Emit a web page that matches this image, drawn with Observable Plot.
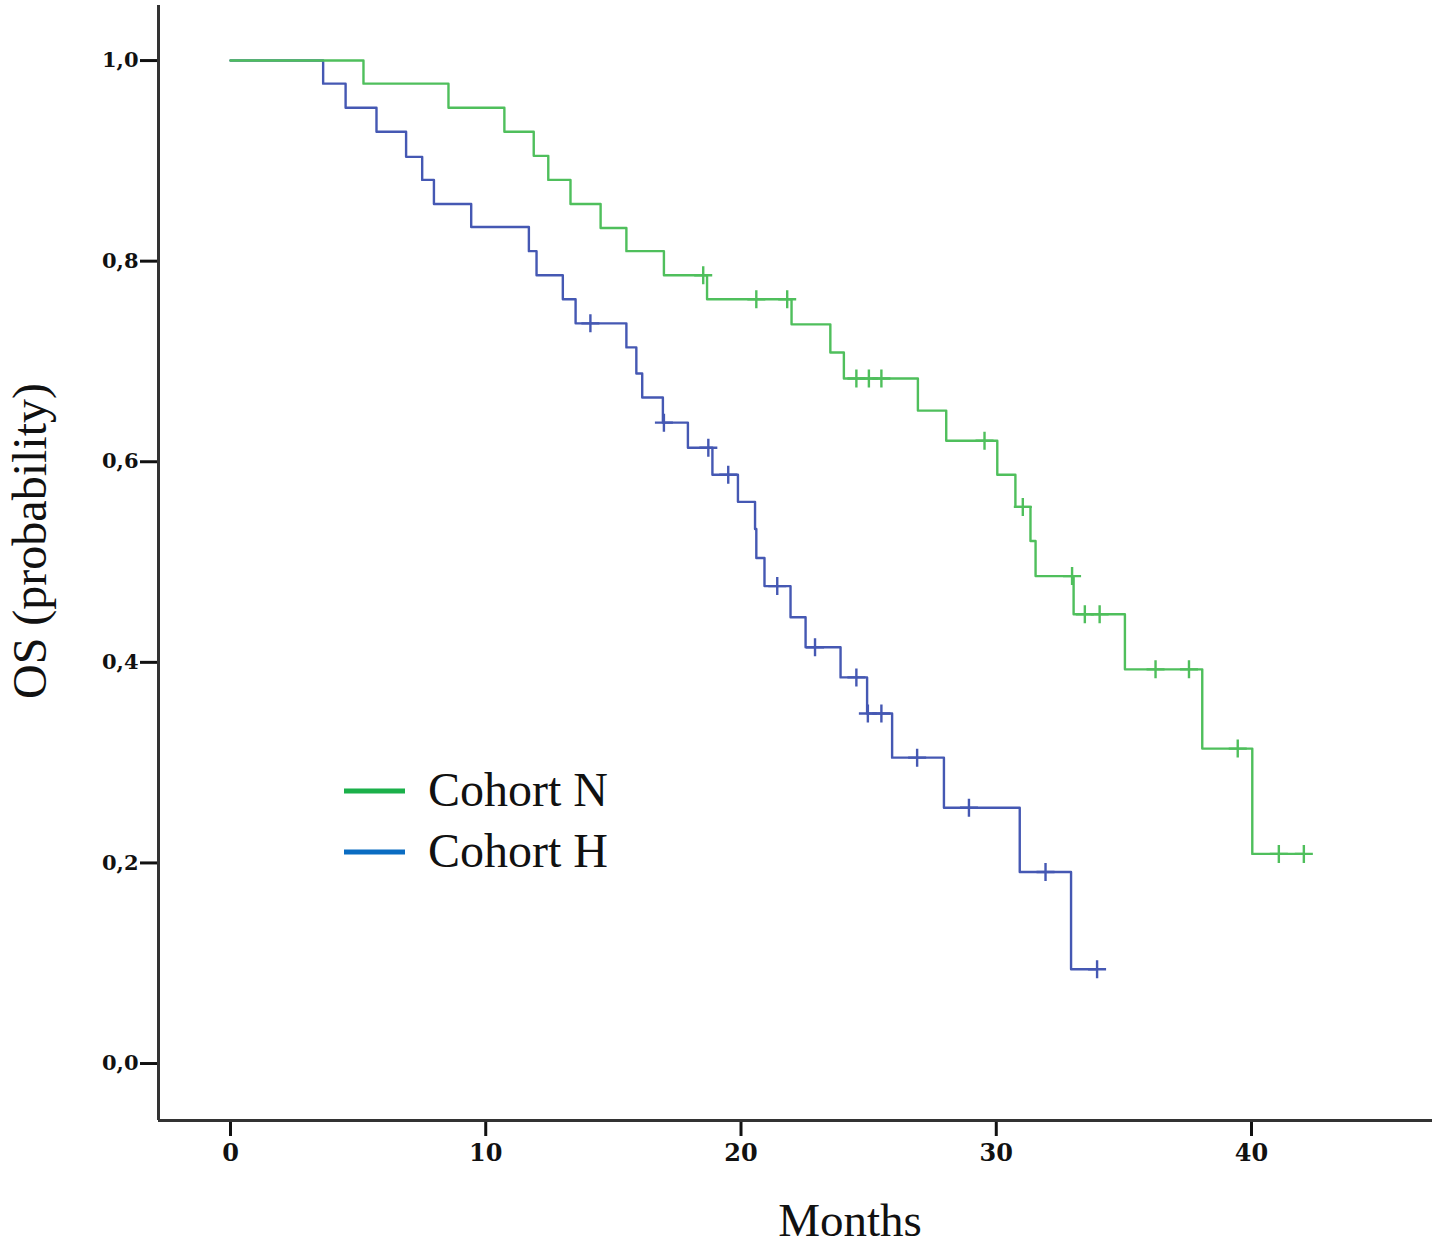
<!DOCTYPE html>
<html>
<head>
<meta charset="utf-8">
<script src="https://cdn.jsdelivr.net/npm/d3@7"></script>
<script src="https://cdn.jsdelivr.net/npm/@observablehq/plot@0.6"></script>
<style>
  html, body { margin: 0; padding: 0; background: #fff; }
  #wrap { position: relative; width: 1437px; height: 1248px; }
  #wrap svg.plotsvg [aria-label="x-axis tick"], #wrap svg.plotsvg [aria-label="y-axis tick"] { stroke-width: 3; }
  #wrap svg.plotsvg [aria-label="x-axis tick label"] { font-size: 24px; }
  #overlay { position: absolute; left: 0; top: 0; }
</style>
</head>
<body>
<div id="wrap"></div>
<script>
// ---- Data ----
const seriesNames = ["Cohort N", "Cohort H"];

// Cohort N step curve: event times (months) and survival after each step
const cohortN_time = [0, 5.21, 8.54, 10.73, 11.88, 12.45, 13.32, 14.5, 15.51, 16.98, 18.67, 21.98, 23.5, 24.03, 26.93, 28.04, 30.04, 30.75, 31.34, 31.54, 33.03, 35.04, 38.07, 40.03, 42.05];
const cohortN_surv = [1, 0.977, 0.953, 0.929, 0.905, 0.881, 0.857, 0.833, 0.810, 0.786, 0.762, 0.737, 0.709, 0.683, 0.651, 0.621, 0.587, 0.555, 0.521, 0.486, 0.448, 0.393, 0.314, 0.209, 0.209];
const cohortN_censor = [18.52, 20.6, 21.81, 24.52, 25.01, 25.5, 29.54, 31.04, 32.97, 33.47, 34.05, 36.24, 37.55, 39.46, 41.07, 42.05];

// Cohort H step curve
const cohortH_time = [0, 3.63, 4.51, 5.72, 6.88, 7.51, 7.97, 9.43, 11.69, 11.99, 13.02, 13.52, 15.51, 15.9, 16.13, 16.94, 17.92, 18.88, 19.88, 20.55, 20.6, 20.92, 21.94, 22.53, 23.9, 24.94, 25.92, 27.95, 30.92, 32.93, 33.95];
const cohortH_surv = [1, 0.977, 0.953, 0.929, 0.904, 0.881, 0.857, 0.834, 0.810, 0.786, 0.762, 0.738, 0.714, 0.688, 0.664, 0.639, 0.614, 0.587, 0.560, 0.533, 0.504, 0.476, 0.445, 0.415, 0.385, 0.349, 0.305, 0.255, 0.191, 0.094, 0.094];
const cohortH_censor = [14.1, 16.98, 18.72, 19.5, 21.42, 22.9, 24.52, 24.97, 25.5, 26.9, 28.93, 31.93, 33.95];

const xTicks = [0, 10, 20, 30, 40];
const yTicks = [0, 0.2, 0.4, 0.6, 0.8, 1.0];

// ---- Styling ----
const lineColors = {"Cohort N": "#4fbf5c", "Cohort H": "#4558b3"};
const legendColors = {"Cohort N": "#1bb04a", "Cohort H": "#0a6cc2"};

const xDomain = [-2.82, 47.09];
const yDomain = [-0.0568, 1.0549];

function buildSteps(name, times, surv) {
  return times.map((t, i) => ({series: name, t, s: surv[i]}));
}
function survAt(times, surv, t) {
  let v = surv[0];
  for (let i = 0; i < times.length; i++) { if (times[i] <= t) v = surv[i]; }
  return v;
}
function buildCensor(name, times, surv, cens) {
  return cens.map(t => ({series: name, t, s: survAt(times, surv, t)}));
}

const steps = [
  ...buildSteps("Cohort H", cohortH_time, cohortH_surv),
  ...buildSteps("Cohort N", cohortN_time, cohortN_surv)
];
const censors = [
  ...buildCensor("Cohort H", cohortH_time, cohortH_surv, cohortH_censor),
  ...buildCensor("Cohort N", cohortN_time, cohortN_surv, cohortN_censor)
];

const plusSymbol = {
  draw(ctx, size) {
    const v = 9, h = 9;
    ctx.moveTo(0, -v); ctx.lineTo(0, v);
    ctx.moveTo(-h, 0); ctx.lineTo(h, 0);
  }
};

const chart = Plot.plot({
  width: 1437,
  height: 1248,
  marginLeft: 158,
  marginRight: 5,
  marginTop: 5,
  marginBottom: 128,
  style: {fontFamily: "'DejaVu Serif', serif", fontSize: "21px", fontWeight: "bold", color: "#111", background: "#fff"},
  x: {domain: xDomain, ticks: xTicks, tickSize: 16, tickPadding: 7, tickFormat: d => String(d), label: null},
  y: {domain: yDomain, ticks: yTicks, tickSize: 18, tickPadding: 2, tickFormat: d => d.toFixed(1).replace(".", ","), label: null},
  color: {domain: seriesNames, range: seriesNames.map(n => lineColors[n])},
  marks: [
    Plot.ruleX([xDomain[0]], {stroke: "#333", strokeWidth: 3}),
    Plot.ruleY([yDomain[0]], {stroke: "#333", strokeWidth: 3}),
    Plot.line(steps, {x: "t", y: "s", z: "series", stroke: "series", curve: "step-after", strokeWidth: 2.4}),
    Plot.dot(censors, {x: "t", y: "s", stroke: "series", fill: "none", symbol: plusSymbol, strokeWidth: 2.4})
  ]
});
chart.classList.add("plotsvg");
document.getElementById("wrap").appendChild(chart);

// Overlay: axis titles and legend as real text
const ns = "http://www.w3.org/2000/svg";
const ov = document.createElementNS(ns, "svg");
ov.setAttribute("id", "overlay");
ov.setAttribute("width", 1437);
ov.setAttribute("height", 1248);
function addText(txt, attrs) {
  const el = document.createElementNS(ns, "text");
  for (const k in attrs) el.setAttribute(k, attrs[k]);
  el.textContent = txt;
  ov.appendChild(el);
  return el;
}
addText("Months", {x: 850, y: 1236, "text-anchor": "middle", "font-family": "'Liberation Serif', serif", "font-size": 47, fill: "#111"});
addText("OS (probability)", {transform: "translate(46,541) rotate(-90)", "text-anchor": "middle", "font-family": "'Liberation Serif', serif", "font-size": 48, fill: "#111"});
seriesNames.forEach((n, i) => {
  const cy = 791 + i * 61;
  const ln = document.createElementNS(ns, "line");
  ln.setAttribute("x1", 344); ln.setAttribute("x2", 405);
  ln.setAttribute("y1", cy); ln.setAttribute("y2", cy);
  ln.setAttribute("stroke", legendColors[n]); ln.setAttribute("stroke-width", 5);
  ov.appendChild(ln);
  addText(n, {x: 428, y: cy + 15, "font-family": "'Liberation Serif', serif", "font-size": 48, fill: "#111"});
});
document.getElementById("wrap").appendChild(ov);
</script>
</body>
</html>
